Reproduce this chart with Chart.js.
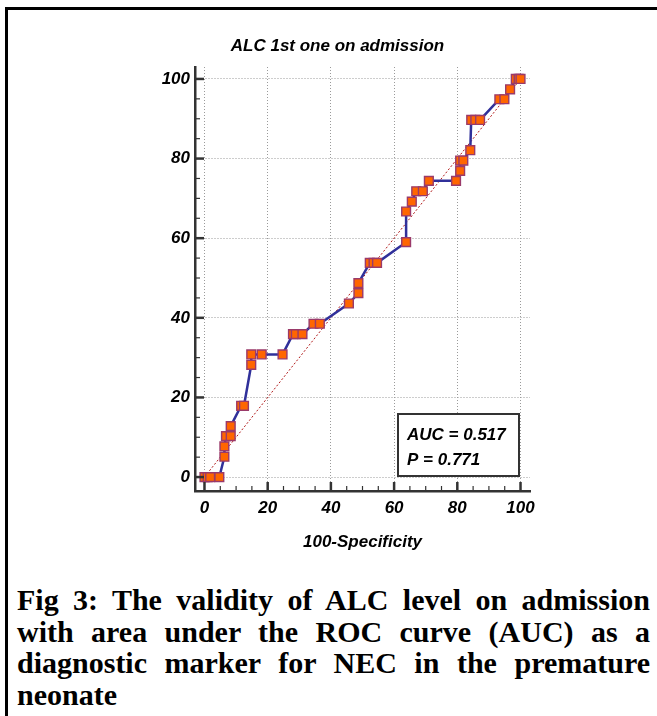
<!DOCTYPE html>
<html>
<head>
<meta charset="utf-8">
<script src="https://cdn.jsdelivr.net/npm/chart.js@4"></script>
<style>
    html, body { margin: 0; padding: 0; background: #fff; }
    body { width: 657px; height: 716px; position: relative; overflow: hidden; }
    #frame {
        position: absolute; left: 5px; top: 7px; width: 660px; height: 720px;
        border-left: 3px solid #000; border-top: 3px solid #000;
    }
    #wrap { position: absolute; left: 0; top: 0; width: 657px; height: 570px; }
    #caption {
        position: absolute; left: 17px; top: 584px; width: 633px;
        font-family: "Liberation Serif", "Times New Roman", serif;
        font-weight: bold; font-size: 30px; line-height: 31.5px; color: #000;
    }
    #caption div { text-align: justify; text-align-last: justify; white-space: nowrap; }
    #caption div.last { text-align-last: left; }
</style>
</head>
<body>
<div id="frame"></div>
<div id="wrap"><canvas id="roc"></canvas></div>
<div id="caption">
    <div>Fig 3: The validity of ALC level on admission</div>
    <div>with area under the ROC curve (AUC) as a</div>
    <div>diagnostic marker for NEC in the premature</div>
    <div class="last">neonate</div>
</div>
<script>
// ROC curve points
const rocX = [0, 1, 1.8, 4.7, 6.3, 6.3, 6.8, 8.3, 8.3, 11.6, 12.5, 14.8, 14.8, 18.1, 24.7,
    28.0, 28.9, 31.0, 34.5, 36.5, 45.7, 48.7, 48.7, 52.3, 53.5, 54.6, 63.8, 63.8, 65.6,
    67.0, 69.1, 71.0, 79.6, 80.9, 80.9, 81.9, 84.1, 84.4, 85.7, 87.2, 93.3, 94.9, 96.7,
    98.5, 99.4, 100];
const rocY = [0, 0, 0, 0, 5.1, 7.7, 10.3, 10.3, 12.8, 17.9, 17.9, 28.2, 30.8, 30.8, 30.8,
    35.9, 35.9, 35.9, 38.5, 38.5, 43.6, 46.2, 48.7, 53.8, 53.8, 53.8, 59.0, 66.7, 69.2,
    71.8, 71.8, 74.4, 74.4, 76.9, 79.5, 79.5, 82.1, 89.7, 89.7, 89.7, 94.9, 94.9, 97.4,
    100, 100, 100];

// reference diagonal
const diagX = [0, 100];
const diagY = [0, 100];

const xTicks = [0, 20, 40, 60, 80, 100];
const yTicks = [0, 20, 40, 60, 80, 100];
const minorStep = 5;

const chartTitle = 'ALC 1st one on admission';
const xTitle = '100-Specificity';
const statLines = ['AUC = 0.517', 'P = 0.771'];

const boldItalic = { family: 'Arial, "Liberation Sans", sans-serif', size: 17, weight: 'bold', style: 'italic' };

// inward tick marks (major + minor)
const innerTicks = {
    id: 'innerTicks',
    afterDraw(chart) {
        const { ctx, chartArea, scales } = chart;
        ctx.save();
        ctx.strokeStyle = '#333';
        for (let v = 0; v <= 100; v += minorStep) {
            const major = v % 20 === 0;
            ctx.lineWidth = major ? 2.5 : 1.2;
            const len = major ? 9 : 5;
            const px = scales.x.getPixelForValue(v);
            ctx.beginPath();
            ctx.moveTo(px, chartArea.bottom);
            ctx.lineTo(px, chartArea.bottom - len);
            ctx.stroke();
            const py = scales.y.getPixelForValue(v);
            ctx.beginPath();
            ctx.moveTo(chartArea.left, py);
            ctx.lineTo(chartArea.left + len, py);
            ctx.stroke();
        }
        ctx.restore();
    }
};

// AUC / P box in lower right corner
const statBox = {
    id: 'statBox',
    afterDraw(chart) {
        const { ctx, chartArea } = chart;
        const w = 121, h = 62;
        const bx = chartArea.right - 132;
        const by = chartArea.bottom - 77;
        ctx.save();
        ctx.fillStyle = '#fff';
        ctx.fillRect(bx, by, w, h);
        ctx.strokeStyle = '#333';
        ctx.lineWidth = 2;
        ctx.strokeRect(bx, by, w, h);
        ctx.fillStyle = '#000';
        ctx.font = 'italic bold 17px Arial, "Liberation Sans", sans-serif';
        ctx.textBaseline = 'alphabetic';
        ctx.fillText(statLines[0], bx + 9, by + 26);
        ctx.fillText(statLines[1], bx + 9, by + 51);
        ctx.restore();
    }
};

const gridStyle = {
    color: '#9a9a9a',
    lineWidth: 1,
    drawTicks: false
};

new Chart(document.getElementById('roc'), {
    type: 'scatter',
    data: {
        datasets: [{
            label: 'ROC',
            data: rocX.map((x, i) => ({ x: x, y: rocY[i] })),
            showLine: true,
            borderColor: '#30309a',
            borderWidth: 2.5,
            backgroundColor: '#ff6600',
            pointStyle: 'rect',
            pointRadius: 6.2,
            pointBorderColor: '#9a3a6a',
            pointBorderWidth: 1.4,
            order: 1
        }, {
            label: 'Diagonal',
            data: diagX.map((x, i) => ({ x: x, y: diagY[i] })),
            showLine: true,
            borderColor: '#b01818',
            borderWidth: 1,
            borderDash: [2, 2],
            pointRadius: 0,
            order: 2
        }]
    },
    options: {
        responsive: true,
        maintainAspectRatio: false,
        animation: false,
        layout: { padding: { left: 145, right: 127, top: 36, bottom: 13 } },
        plugins: {
            legend: { display: false },
            tooltip: { enabled: false },
            title: {
                display: true,
                text: chartTitle,
                color: '#000',
                font: boldItalic,
                padding: { top: 0, bottom: 10.6 }
            }
        },
        scales: {
            x: {
                type: 'linear',
                min: -3,
                max: 103,
                afterBuildTicks: s => { s.ticks = xTicks.map(v => ({ value: v })); },
                afterFit: s => { s.height = 66; },
                grid: gridStyle,
                border: { display: true, color: '#333', width: 2.5, dash: [1, 2] },
                ticks: { color: '#000', font: boldItalic, padding: 7, maxRotation: 0 },
                title: { display: true, text: xTitle, color: '#000', font: boldItalic, padding: { top: 4, bottom: 4 } }
            },
            y: {
                type: 'linear',
                min: -3.5,
                max: 103,
                afterBuildTicks: s => { s.ticks = yTicks.map(v => ({ value: v })); },
                afterFit: s => { s.width = 50; },
                grid: gridStyle,
                border: { display: true, color: '#333', width: 2.5, dash: [1, 2] },
                ticks: { color: '#000', font: boldItalic, padding: 5 }
            }
        }
    },
    plugins: [innerTicks, statBox]
});
</script>
</body>
</html>
